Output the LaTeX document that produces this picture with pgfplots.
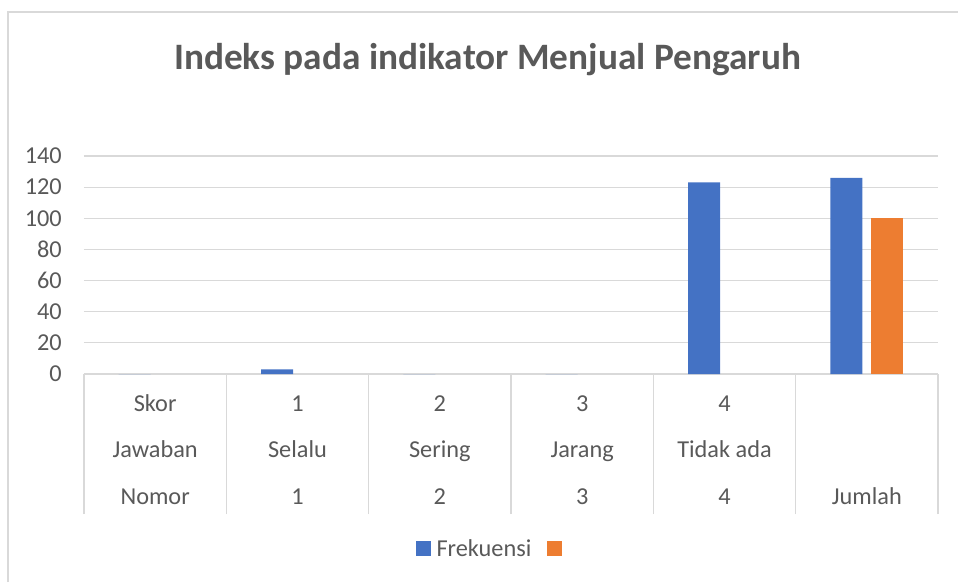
\documentclass[border=0pt]{standalone}
\usepackage{pgfplots}
\pgfplotsset{compat=1.18}
\usepackage{fontspec}
\setmainfont{Carlito}
\definecolor{txt}{HTML}{595959}
\definecolor{gridc}{HTML}{D9D9D9}
\definecolor{blue1}{HTML}{4472C4}
\definecolor{orange1}{HTML}{ED7D31}
\begin{document}
\begin{tikzpicture}[x=1pt,y=1pt]
\useasboundingbox (-84,374) rectangle (874,-209);
\draw[gridc, line width=1.2pt] (-76,-208) -- (-76,362) -- (874,362);
\node[txt, font=\fontsize{37.3}{40}\selectfont\bfseries, anchor=base] at (403.5,304) {Indeks pada indikator Menjual Pengaruh};
\begin{axis}[
  at={(0,0)}, anchor=south west,
  scale only axis, width=854pt, height=218pt,
  xmin=-0.5, xmax=5.5, ymin=0, ymax=140,
  ytick={0,20,...,140},
  ymajorgrids, xmajorgrids=false, grid style={draw=gridc, line width=1.2pt},
  axis x line*=bottom, axis y line*=left,
  x axis line style={draw=gridc, line width=1.2pt, -},
  y axis line style={draw=none},
  /pgf/number format/assume math mode=true,
  xtick pos=bottom, xtick align=outside,
  xtick={0,...,5},
  xticklabels={{Skor\\Jawaban\\Nomor},{1\\Selalu\\1},{2\\Sering\\2},{3\\Jarang\\3},{4\\Tidak ada\\4},{~\\~\\Jumlah}},
  xticklabel style={text=txt, font=\fontsize{24.3}{46.5}\selectfont, align=center, anchor=base, yshift=-130pt, inner sep=0pt},
  major tick length=0pt,
  xtick style={draw=gridc, line width=1.2pt},
  extra x ticks={-0.5,0.5,1.5,2.5,3.5,4.5,5.5},
  extra x tick labels={},
  extra x tick style={grid=none, major tick length=140pt, tick align=outside},
  yticklabel style={text=txt, font=\fontsize{24.3}{26}\selectfont, inner sep=0pt, xshift=-22pt},
  ytick style={draw=none},
  ybar, bar width=32pt,
  legend style={at={(0.4783,-0.8005)}, anchor=center, draw=none, fill=none, legend columns=2, font=\fontsize{24.3}{26}\selectfont, text=txt, inner sep=0pt, nodes={inner sep=0pt},
    /tikz/every odd column/.append style={column sep=6pt},
    /tikz/every even column/.append style={column sep=16pt}},
  legend image code/.code={\draw[#1,draw=none] (0pt,-7.5pt) rectangle (15pt,7.5pt);},
]
\addplot[fill=blue1, draw=none, bar shift=-20.5pt] coordinates {(0,0) (1,3) (2,0) (3,0) (4,123) (5,126)};
\addplot[fill=orange1, draw=none, bar shift=20.5pt] coordinates {(5,100)};
\legend{Frekuensi,\mbox{}}
\end{axis}
\end{tikzpicture}
\end{document}
